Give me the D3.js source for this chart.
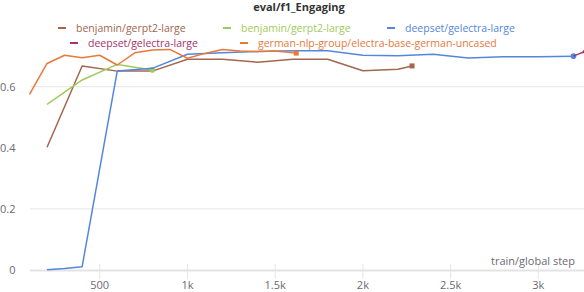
<!DOCTYPE html>
<html><head><meta charset="utf-8">
<script src="https://cdn.jsdelivr.net/npm/d3@7/dist/d3.min.js"></script>
<style>body{margin:0;background:#fff;}svg{display:block;font-family:"Open Sans",sans-serif;}</style>
</head><body><svg id="c" width="584" height="292"></svg>
<script>
const title = "eval/f1_Engaging";
const xLabel = "train/global step";
const xTicks = [500, 1000, 1500, 2000, 2500, 3000];
const xTickLabels = ["500", "1k", "1.5k", "2k", "2.5k", "3k"];
const yTicks = [0, 0.2, 0.4, 0.6];
const yTickLabels = ["0", "0.2", "0.4", "0.6"];
const yGrid = [0, 0.2, 0.6];

const brownSteps = [200, 400, 600, 800, 1000, 1200, 1400, 1600, 1800, 2000, 2200, 2280];
const brownVals  = [0.402, 0.668, 0.651, 0.651, 0.69, 0.69, 0.68, 0.69, 0.69, 0.652, 0.657, 0.668];
const greenSteps = [200, 400, 600, 800];
const greenVals  = [0.542, 0.622, 0.673, 0.655];
const blueSteps  = [200, 300, 400, 600, 800, 1000, 1200, 1400, 1600, 1800, 2000, 2200, 2400, 2600, 2800, 3000, 3200];
const blueVals   = [0.001, 0.005, 0.011, 0.651, 0.66, 0.706, 0.711, 0.715, 0.718, 0.718, 0.703, 0.701, 0.706, 0.694, 0.698, 0.698, 0.70];
const purpleSteps = [3200, 3270];
const purpleVals  = [0.70, 0.717];
const orangeSteps = [100, 200, 300, 400, 500, 600, 700, 800, 900, 1000, 1100, 1200, 1300, 1400, 1500, 1620];
const orangeVals  = [0.575, 0.676, 0.703, 0.695, 0.703, 0.671, 0.711, 0.72, 0.722, 0.693, 0.709, 0.722, 0.717, 0.715, 0.717, 0.71];

const series = [
  {name: "benjamin/gerpt2-large", color: "#a3664f", steps: brownSteps, vals: brownVals, marker: "square"},
  {name: "benjamin/gerpt2-large", color: "#9fcb5c", steps: greenSteps, vals: greenVals, marker: "circle"},
  {name: "deepset/gelectra-large", color: "#5387dd", steps: blueSteps, vals: blueVals, marker: "circle"},
  {name: "deepset/gelectra-large", color: "#a3336b", steps: purpleSteps, vals: purpleVals, marker: "triangle"},
  {name: "german-nlp-group/electra-base-german-uncased", color: "#e8793a", steps: orangeSteps, vals: orangeVals, marker: "square"}
];
const legendPos = [[58, 28], [223, 28], [387, 28], [70, 43], [240, 43]];

const svg = d3.select("#c");
const x = d3.scaleLinear().domain([100, 3260]).range([29.5, 584]);
const y = d3.scaleLinear().domain([0, 0.6]).range([270, 86.7]);

svg.append("text").attr("x", 299).attr("y", 11).attr("text-anchor", "middle")
  .attr("font-size", 11).attr("font-weight", "bold").attr("fill", "#333").text(title);

// legend
series.forEach((s, i) => {
  const [lx, ly] = legendPos[i];
  svg.append("line").attr("x1", lx).attr("x2", lx + 8).attr("y1", ly).attr("y2", ly)
    .attr("stroke", s.color).attr("stroke-width", 2);
  svg.append("text").attr("x", lx + 18).attr("y", ly + 3.8).attr("font-size", 10.5)
    .attr("fill", s.color).text(s.name);
});

// grid
svg.append("g").selectAll("line").data(yGrid.filter(d => d > 0)).join("line")
  .attr("x1", 30).attr("x2", 584).attr("y1", d => y(d)).attr("y2", d => y(d))
  .attr("stroke", "#e6e6e6").attr("stroke-width", 1);
svg.append("line").attr("x1", 30).attr("x2", 584).attr("y1", y(0)+0.5).attr("y2", y(0)+0.5)
  .attr("stroke", "#e3e3e3").attr("stroke-width", 2);

// x axis ticks
const xa = svg.append("g");
xa.selectAll("line").data(xTicks).join("line")
  .attr("x1", d => x(d)).attr("x2", d => x(d)).attr("y1", 264).attr("y2", 279)
  .attr("stroke", "#e6e6e6").attr("stroke-width", 1);
xa.selectAll("text").data(xTicks).join("text")
  .attr("x", d => x(d)).attr("y", 289).attr("text-anchor", "middle")
  .attr("font-size", 11).attr("fill", "#6b6b76").text((d, i) => xTickLabels[i]);

// y axis labels
svg.append("g").selectAll("text").data(yTicks).join("text")
  .attr("x", 15.5).attr("y", d => y(d) + 4).attr("text-anchor", "end")
  .attr("font-size", 11).attr("fill", "#6b6b76").text((d, i) => yTickLabels[i]);

svg.append("text").attr("x", 575).attr("y", 265).attr("text-anchor", "end")
  .attr("font-size", 11).attr("fill", "#6b6b76").text(xLabel);

// clip
svg.append("clipPath").attr("id", "clip").append("rect")
  .attr("x", 28).attr("y", 40).attr("width", 556).attr("height", 240);

const line = d3.line().x(d => x(d[0])).y(d => y(d[1]));
const plot = svg.append("g").attr("clip-path", "url(#clip)");
series.forEach(s => {
  const pts = s.steps.map((st, i) => [st, s.vals[i]]);
  plot.append("path").datum(pts).attr("d", line).attr("fill", "none")
    .attr("stroke", s.color).attr("stroke-width", 1.5).attr("stroke-linejoin", "round");
  const last = pts[pts.length - 1];
  const cx = x(last[0]), cy = y(last[1]);
  if (s.marker === "square") {
    plot.append("rect").attr("x", cx - 2.5).attr("y", cy - 2.5).attr("width", 5).attr("height", 5).attr("fill", s.color);
  } else if (s.marker === "circle") {
    plot.append("circle").attr("cx", cx).attr("cy", cy).attr("r", 2.8).attr("fill", s.color);
  } else {
    plot.append("path").attr("d", d3.symbol(d3.symbolTriangle, 30)()).attr("transform", `translate(${cx},${cy})`).attr("fill", s.color);
  }
});
</script></body></html>
